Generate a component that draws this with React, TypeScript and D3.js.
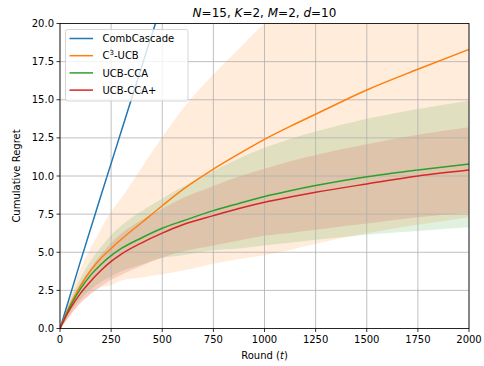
import React from "react";
import * as d3 from "d3";

const rounds = [0, 25, 50, 100, 150, 200, 250, 300, 400, 500, 600, 750, 875, 1000, 1125, 1250, 1500, 1750, 2000];

const combCascadeRounds = [0, 100, 200, 300, 400, 500];
const combCascadeMean = [0, 4.4, 8.7, 12.95, 17.2, 21.4];

const c3ucbMean = [0, 0.8, 1.55, 2.8, 3.8, 4.6, 5.25, 5.85, 6.95, 8.05, 9.1, 10.45, 11.45, 12.4, 13.25, 14.05, 15.64, 17.0, 18.3];
const c3ucbSpread = [0, 0.4, 0.7, 1.1, 1.5, 1.9, 2.4, 2.7, 3.6, 4.5, 5.3, 6.2, 6.9, 7.6, 8.1, 8.5, 9.4, 10.2, 11.0];

const ucbCcaMean = [0, 0.75, 1.45, 2.6, 3.5, 4.2, 4.78, 5.25, 5.95, 6.57, 7.05, 7.73, 8.2, 8.65, 9.03, 9.37, 9.95, 10.4, 10.79];
const ucbCcaSpread = [0, 0.3, 0.45, 0.7, 0.95, 1.15, 1.35, 1.5, 1.75, 1.95, 2.25, 2.6, 2.95, 3.2, 3.4, 3.55, 3.8, 4.0, 4.15];

const ucbCcaPlusMean = [0, 0.7, 1.3, 2.3, 3.1, 3.8, 4.4, 4.88, 5.62, 6.25, 6.8, 7.4, 7.87, 8.28, 8.62, 8.93, 9.48, 10.0, 10.39];
const ucbCcaPlusSpread = [0, 0.3, 0.45, 0.65, 0.85, 1.05, 1.2, 1.35, 1.5, 1.6, 1.75, 1.95, 2.1, 2.2, 2.35, 2.45, 2.6, 2.7, 2.8];

const xTicks = [0, 250, 500, 750, 1000, 1250, 1500, 1750, 2000];
const yTicks = [0, 2.5, 5, 7.5, 10, 12.5, 15, 17.5, 20];

const colors = ["#1f77b4", "#ff7f0e", "#2ca02c", "#d62728"];

type Pt = { r: number; m: number; s: number };

export default function App() {
  const W = 484, H = 366;
  const left = 60, right = 469, top = 23.5, bottom = 328.5;
  const x = d3.scaleLinear().domain([0, 2000]).range([left, right]);
  const y = d3.scaleLinear().domain([0, 20]).range([bottom, top]);
  const font = "DejaVu Sans, sans-serif";

  const mk = (rs: number[], ms: number[], ss?: number[]): Pt[] =>
    rs.map((r, i) => ({ r, m: ms[i], s: ss ? ss[i] : 0 }));

  const series = [
    { name: "CombCascade", pts: mk(combCascadeRounds, combCascadeMean), band: false },
    { name: "C3-UCB", pts: mk(rounds, c3ucbMean, c3ucbSpread), band: true },
    { name: "UCB-CCA", pts: mk(rounds, ucbCcaMean, ucbCcaSpread), band: true },
    { name: "UCB-CCA+", pts: mk(rounds, ucbCcaPlusMean, ucbCcaPlusSpread), band: true },
  ];

  const line = d3.line<Pt>().x(d => x(d.r)).y(d => y(d.m)).curve(d3.curveMonotoneX);
  const area = d3.area<Pt>().x(d => x(d.r)).y0(d => y(d.m - d.s)).y1(d => y(d.m + d.s)).curve(d3.curveMonotoneX);

  const legendX = 65.5, legendY = 29.5;

  return (
    <svg width={W} height={H} style={{ position: "absolute", left: 0, top: 0, background: "#fff" }} fontFamily={font}>
      <defs>
        <clipPath id="plotclip">
          <rect x={left} y={top} width={right - left} height={bottom - top} />
        </clipPath>
      </defs>
      <rect x={0} y={0} width={W} height={H} fill="#fff" />
      <g clipPath="url(#plotclip)">
        {series.map((s, i) => s.band ? (
          <path key={"b" + i} d={area(s.pts) || ""} fill={colors[i]} fillOpacity={0.15} stroke="none" />
        ) : null)}
      </g>
      <g stroke="#b0b0b0" strokeWidth={0.8}>
        {xTicks.map(t => <line key={"gx" + t} x1={x(t)} x2={x(t)} y1={top} y2={bottom} />)}
        {yTicks.map(t => <line key={"gy" + t} x1={left} x2={right} y1={y(t)} y2={y(t)} />)}
      </g>
      <g clipPath="url(#plotclip)">
        {series.map((s, i) => (
          <path key={"l" + i} d={line(s.pts) || ""} fill="none" stroke={colors[i]} strokeWidth={1.5} />
        ))}
      </g>
      <rect x={left} y={top} width={right - left} height={bottom - top} fill="none" stroke="#000" strokeWidth={0.8} />
      <g stroke="#000" strokeWidth={0.8}>
        {xTicks.map(t => <line key={"tx" + t} x1={x(t)} x2={x(t)} y1={bottom} y2={bottom + 3.5} />)}
        {yTicks.map(t => <line key={"ty" + t} x1={left - 3.5} x2={left} y1={y(t)} y2={y(t)} />)}
      </g>
      <g fontSize={10} fill="#000">
        {xTicks.map(t => (
          <text key={"lx" + t} x={x(t)} y={bottom + 14} textAnchor="middle">{t}</text>
        ))}
        {yTicks.map(t => (
          <text key={"ly" + t} x={left - 6} y={y(t) + 3.6} textAnchor="end">{t.toFixed(1)}</text>
        ))}
      </g>
      <text x={(left + right) / 2} y={359} fontSize={10} textAnchor="middle">
        Round (<tspan fontStyle="italic">t</tspan>)
      </text>
      <text transform={`translate(20,${(top + bottom) / 2}) rotate(-90)`} fontSize={10} textAnchor="middle">
        Cumulative Regret
      </text>
      <text x={(left + right) / 2} y={17} fontSize={12} textAnchor="middle">
        <tspan fontStyle="italic">N</tspan>=15, <tspan fontStyle="italic">K</tspan>=2, <tspan fontStyle="italic">M</tspan>=2, <tspan fontStyle="italic">d</tspan>=10
      </text>
      <g>
        <rect x={legendX} y={legendY} width={122.5} height={71.5} rx={2} fill="#fff" fillOpacity={0.8} stroke="#cccccc" strokeWidth={0.8} />
        {series.map((s, i) => {
          const ry = 38.5 + i * 17.2;
          return (
            <g key={"lg" + i}>
              <line x1={69.5} x2={93} y1={ry} y2={ry} stroke={colors[i]} strokeWidth={1.5} />
              <text x={102.5} y={ry + 3.6} fontSize={10}>
                {i === 1 ? (
                  <>C<tspan fontSize={7} dy={-4}>3</tspan><tspan dy={4}>-UCB</tspan></>
                ) : s.name}
              </text>
            </g>
          );
        })}
      </g>
    </svg>
  );
}
